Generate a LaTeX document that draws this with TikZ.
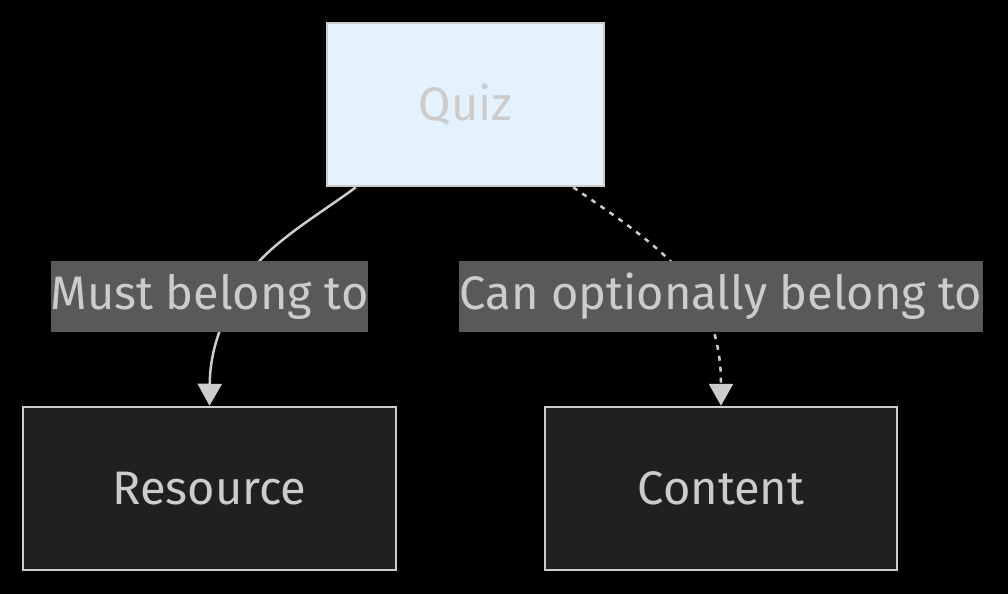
\documentclass[tikz,border=0pt]{standalone}
\usepackage{fontspec}
\setmainfont{Fira Sans}
\usetikzlibrary{arrows.meta,calc}
\definecolor{txt}{HTML}{CCCCCC}
\definecolor{quizfill}{HTML}{E3F2FD}
\definecolor{darkfill}{HTML}{1F2020}
\definecolor{lblfill}{HTML}{595959}
\definecolor{bord}{HTML}{CCCCCC}
\tikzset{
  box/.style={draw=bord, line width=2.5pt, inner sep=0pt, minimum height=163pt, text=txt, font=\fontsize{47}{55}\selectfont},
  lbl/.style={fill=lblfill, inner sep=0pt, minimum height=71pt, text=txt, font=\fontsize{47}{55}\selectfont},
  edge/.style={draw=txt, line width=2.5pt, -{Triangle[length=22pt,width=24pt]}},
  dotedge/.style={edge, dash pattern=on 5pt off 6pt}
}
\begin{document}
\begin{tikzpicture}[x=1pt,y=-1pt]
\fill[black] (0,0) rectangle (1008,594);
\useasboundingbox (0,0) rectangle (1008,594);
\node[box, fill=quizfill, minimum width=277pt] (quiz) at (465.5,104.5) {Quiz};
\node[box, fill=darkfill, minimum width=373pt] (resource) at (209.5,488.5) {Resource};
\node[box, fill=darkfill, minimum width=352pt] (content) at (721,488.5) {Content};
\draw[edge] ($(quiz.south west)+(30,0)$) .. controls (315,218) and (255,250) .. (235,296) .. controls (218,330) and (210,355) .. (resource.north);
\draw[dotedge] ($(quiz.south east)+(-32,0)$) .. controls (608,212) and (668,248) .. (700,296) .. controls (716,330) and (721,355) .. (content.north);
\node[lbl, minimum width=315pt] (l1) at (209.5,296.5) {Must belong to};
\node[lbl, minimum width=524pt] (l2) at (721,296.5) {Can optionally belong to};
\end{tikzpicture}
\end{document}
